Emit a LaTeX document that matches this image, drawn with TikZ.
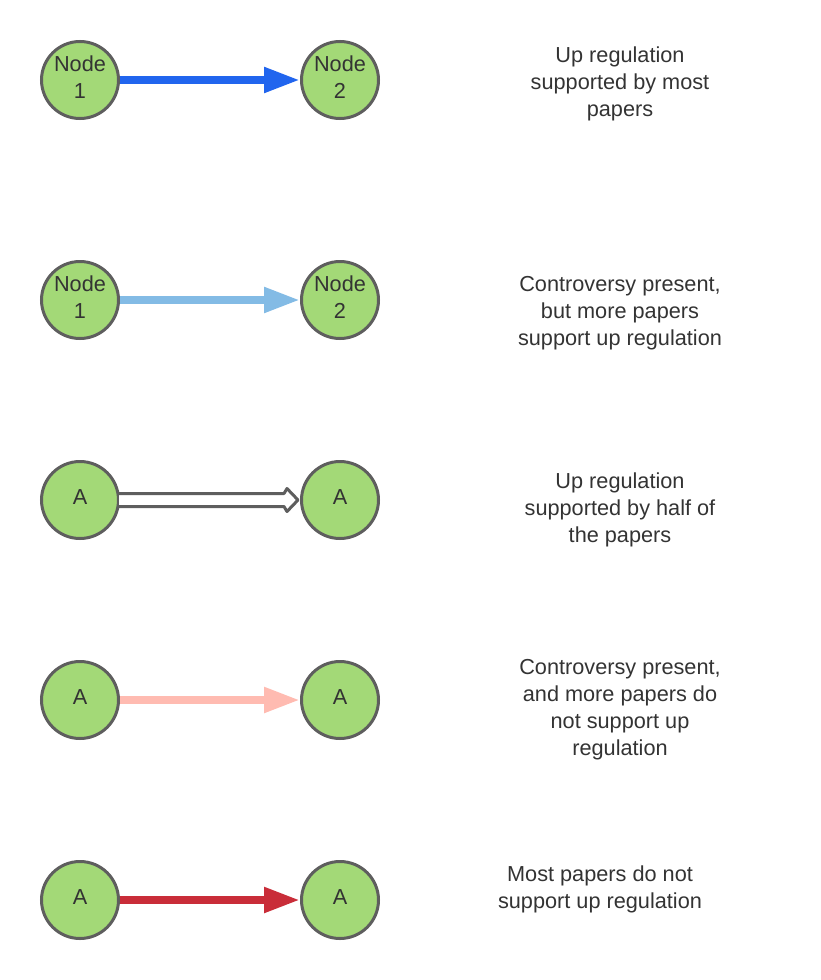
\documentclass[tikz,border=0pt]{standalone}
\usepackage{fontspec}
\setmainfont{Liberation Sans}
\usetikzlibrary{arrows.meta,calc}
\definecolor{nodefill}{HTML}{A3D977}
\definecolor{nodeline}{HTML}{5E5E5E}
\definecolor{txt}{HTML}{333333}
\definecolor{cblue}{HTML}{2165EE}
\definecolor{clightblue}{HTML}{83BBE5}
\definecolor{cpink}{HTML}{FFBBB1}
\definecolor{cred}{HTML}{C92D39}
\tikzset{
  bubble/.style={circle, draw=nodeline, fill=nodefill, line width=3pt, minimum size=77pt, inner sep=0pt, text depth=5pt, text=txt, align=center, font=\fontsize{21.7}{27}\selectfont},
  fatarrow/.style={line width=8pt, -{Triangle[length=36pt,width=24pt]}},
  hollowarrow/.style={draw=nodeline, fill=white, line width=3pt, line join=round},
  legend/.style={anchor=base, align=center, text=txt, inner sep=0pt, font=\fontsize{21.7}{27}\selectfont}
}
\begin{document}
\begin{tikzpicture}[x=1pt,y=-1pt]
\useasboundingbox (0,0) rectangle (820,980);
% row 1
\node[bubble] (a1) at (80,80) {Node\\1};
\node[bubble] (b1) at (340,80) {Node\\2};
\draw[fatarrow, cblue] (a1) -- (b1);
\node[legend] (t1) at (620,116.5) {Up regulation\\supported by most\\papers};
% row 2
\node[bubble] (a2) at (80,300) {Node\\1};
\node[bubble] (b2) at (340,300) {Node\\2};
\draw[fatarrow, clightblue] (a2) -- (b2);
\node[legend] (t2) at (620,345.5) {Controversy present,\\but more papers\\support up regulation};
% row 3
\node[bubble] (a3) at (80,500) {A};
\node[bubble] (b3) at (340,500) {A};
\draw[hollowarrow] ($(a3.east)+(-1,-6.5)$) -- ($(b3.west)+(-16,-6.5)$) -- ($(b3.west)+(-13,-11.5)$)
  -- ($(b3.west)+(-2,0)$) -- ($(b3.west)+(-13,11.5)$) -- ($(b3.west)+(-16,6.5)$) -- ($(a3.east)+(-1,6.5)$);
\node[legend] (t3) at (620,542.5) {Up regulation\\supported by half of\\the papers};
% row 4
\node[bubble] (a4) at (80,700) {A};
\node[bubble] (b4) at (340,700) {A};
\draw[fatarrow, cpink] (a4) -- (b4);
\node[legend] (t4) at (620,755.5) {Controversy present,\\and more papers do\\not support up\\regulation};
% row 5
\node[bubble] (a5) at (80,900) {A};
\node[bubble] (b5) at (340,900) {A};
\draw[fatarrow, cred] (a5) -- (b5);
\node[legend] (t5) at (600,908.5) {Most papers do not\\support up regulation};
\end{tikzpicture}
\end{document}
